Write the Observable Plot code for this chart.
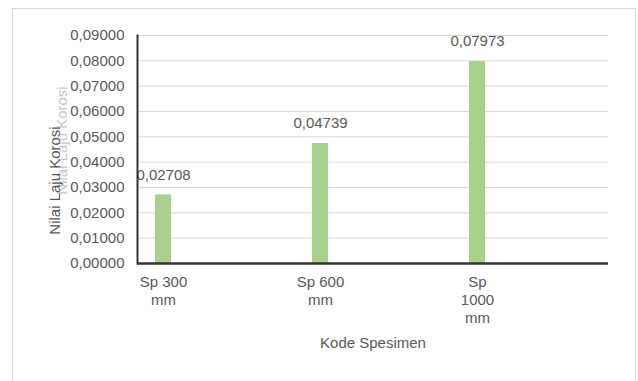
<!DOCTYPE html>
<html>
<head>
<meta charset="utf-8">
<script src="https://cdn.jsdelivr.net/npm/d3@7"></script>
<script src="https://cdn.jsdelivr.net/npm/@observablehq/plot@0.6"></script>
<style>
  html, body { margin: 0; padding: 0; background: #fff; }
  #wrap { position: relative; width: 638px; height: 381px; overflow: hidden; }
  #border { position: absolute; left: 12px; top: 8px; width: 624px; height: 400px; border: 1px solid #d9d9d9; box-sizing: border-box; }
  #chart { position: absolute; left: 0; top: 0; }
</style>
</head>
<body>
<div id="wrap"><div id="border"></div><div id="chart"></div></div>
<script>
// Corrosion rate per specimen code
const specimens = ["Sp 300 mm", "Sp 600 mm", "Sp 1000 mm"];
const tickLines = ["Sp 300\nmm", "Sp 600\nmm", "Sp\n1000\nmm"];
const corrosionRate = [0.02708, 0.04739, 0.07973];
const yTicks = [0, 0.01, 0.02, 0.03, 0.04, 0.05, 0.06, 0.07, 0.08, 0.09];

const data = specimens.map((s, i) => ({specimen: s, rate: corrosionRate[i]}));
const fmt = (v) => d3.format(".5f")(v).replace(".", ",");
const textColor = "#595959";
const font = "Liberation Sans, Arial, sans-serif";

const chart = Plot.plot({
  width: 638,
  height: 381,
  marginLeft: 137,
  marginRight: 30,
  marginTop: 35,
  marginBottom: 118,
  style: {fontFamily: font, fontSize: "15px", color: textColor, background: "transparent"},
  x: {domain: specimens, range: [155.2, 484.9], paddingInner: 0.9, paddingOuter: 0},
  y: {domain: [0, 0.09]},
  marks: [
    Plot.ruleY(yTicks, {stroke: "#d9d9d9", strokeWidth: 1}),
    Plot.barY(data, {x: "specimen", y: "rate", fill: "#a9d18e"}),
    Plot.text(data, {x: "specimen", y: "rate", text: (d) => fmt(d.rate), dy: -20, fill: textColor, fontSize: 15}),
    Plot.frame({anchor: "left", stroke: "#333", strokeWidth: 2}),
    Plot.ruleY([0], {stroke: "#333", strokeWidth: 2.5}),
    Plot.axisY({ticks: yTicks, tickSize: 0, tickPadding: 13, tickFormat: fmt, label: null, fontSize: 15, fill: textColor}),
    Plot.axisX({tickSize: 0, tickPadding: 10, tickFormat: (d) => tickLines[specimens.indexOf(d)], lineHeight: 1.22,
      label: "Kode Spesimen", labelAnchor: "center", labelArrow: "none", labelOffset: 84, fontSize: 15, fill: textColor}),
    // overlapping vertical axis titles
    Plot.text(["Nilai Laju Korosi"], {frameAnchor: "left", textAnchor: "middle", rotate: -90, dx: -75, dy: -9, fill: "#c8c8c8", fontSize: 15}),
    Plot.text(["Nilai Laju Korosi"], {frameAnchor: "left", textAnchor: "middle", rotate: -90, dx: -82, dy: 31, fill: textColor, fontSize: 15})
  ]
});
document.getElementById("chart").appendChild(chart);
</script>
</body>
</html>
